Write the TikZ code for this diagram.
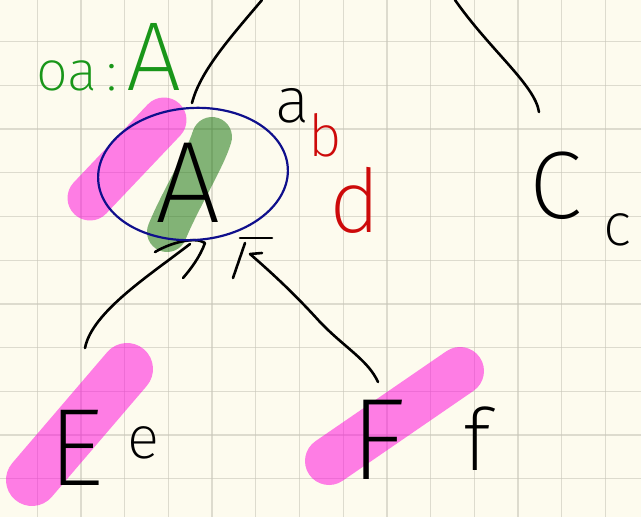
\documentclass[tikz,border=0pt]{standalone}
\usepackage{fontspec}
\newfontfamily\hw{Fira Sans ExtraLight}
\definecolor{paper}{RGB}{253,251,238}
\definecolor{gridc}{RGB}{200,198,185}
\definecolor{pinkc}{RGB}{255,0,220}
\definecolor{greenc}{RGB}{30,120,20}
\definecolor{inkgreen}{RGB}{25,150,25}
\definecolor{inkred}{RGB}{205,10,10}
\definecolor{inkblue}{RGB}{15,15,140}
\tikzset{
  gridline/.style={draw=gridc, line width=1.3pt, opacity=0.6},
  pen/.style={draw=black, line width=2.6pt, line cap=round, line join=round},
  hlpink/.style={draw=pinkc, opacity=0.5, line cap=round},
  hlgreen/.style={draw=greenc, opacity=0.55, line cap=round},
  letter/.style={inner sep=0pt, anchor=base, font=\hw},
}
\newcommand{\fsz}[1]{\fontsize{#1}{#1}\selectfont}
\begin{document}
\begin{tikzpicture}[x=1pt,y=-1pt]
\fill[paper] (0,0) rectangle (641,517);
\useasboundingbox (0,0) rectangle (641,517);
% grid
\foreach \k in {0,...,13} \draw[gridline] ({37.3+43.7*\k},0) -- ({37.3+43.7*\k},517);
\foreach \k in {0,...,10} \draw[gridline] (0,{41.7+43.7*\k}) -- (641,{41.7+43.7*\k});
% highlighter strokes
\draw[hlpink, line width=45pt] (90,198) -- (164,120);
\draw[hlpink, line width=52pt] (32,480) -- (127,369);
\draw[hlpink, line width=48pt] (329,461) -- (460,371);
\draw[hlgreen, line width=40pt] (167,232) .. controls (180,200) and (205,160) .. (212,137);
% nodes
\node[letter, font=\hw\fsz{116}] (A) at (188,222) {A};
\node[letter, font=\hw\fsz{96}] (C) at (556,218) {C};
\node[letter, font=\hw\fsz{110}] (E) at (76,485) {E};
\node[letter, font=\hw\fsz{116}] (F) at (378,479) {F};
\node[letter, font=\hw\fsz{60}] (e) at (143,458) {e};
\node[letter, font=\hw\fsz{86}] (f) at (477,470) {f};
\node[letter, font=\hw\fsz{60}] (c) at (617,245) {c};
\node[letter, font=\hw\fsz{64}] (a) at (293,122) {a};
\node[letter, font=\hw\fsz{58}, text=inkred] (b) at (325,156) {b};
\node[letter, font=\hw\fsz{88}, text=inkred] (d) at (355,232) {d};
\node[letter, anchor=base west, text=inkgreen] (oa) at (36,90) {\fsz{56}oa\,:\,\fsz{98}A};
% connector ends
\coordinate (topL) at (262,0);
\coordinate (topR) at (455,0);
\coordinate (A-in) at (192,103);
\coordinate (C-in) at (539,112);
\coordinate (A-outE) at (190,244);
\coordinate (E-in) at (85,348);
\coordinate (A-outF) at (250,254);
\coordinate (F-in) at (378,382);
% connectors
\draw[pen] (topL) .. controls (228,40) and (200,72) .. (A-in);
\draw[pen] (topR) .. controls (490,50) and (535,85) .. (C-in);
\draw[pen] (A-outE) .. controls (150,275) and (92,312) .. (E-in);
\draw[pen] (262,253) -- (A-outF) .. controls (280,280) and (300,300) .. (320,322) .. controls (345,348) and (368,360) .. (F-in);
% little marks under A
\draw[pen] (155,252) .. controls (170,243) and (195,236) .. (205,243) .. controls (200,257) and (190,270) .. (183,278);
\draw[pen] (240,238) -- (272,238);
\draw[pen] (245,243) -- (233,278);
% blue ellipse
\draw[inkblue, line width=2.2pt, rotate around={4:(193,174)}] (193,174) ellipse [x radius=95pt, y radius=66pt];
\end{tikzpicture}
\end{document}
